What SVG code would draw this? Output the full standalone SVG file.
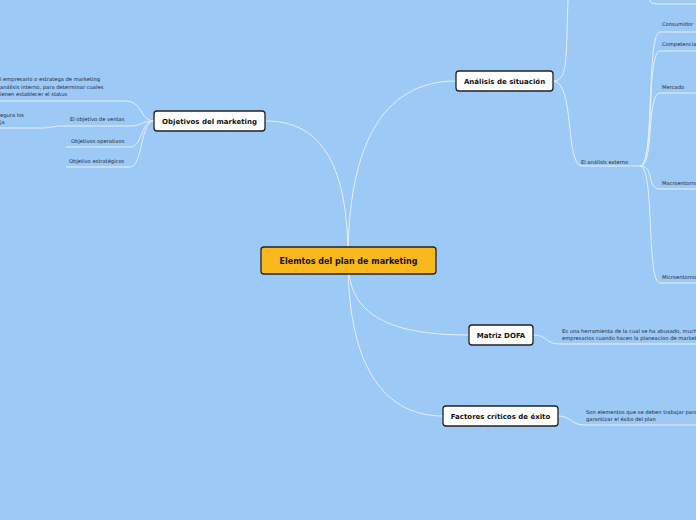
<svg xmlns="http://www.w3.org/2000/svg" width="696" height="520" viewBox="0 0 696 520">
<style>
.n rect{fill:#fff;stroke:#222;stroke-width:1.3}
.n text{font-family:"DejaVu Sans",Verdana,sans-serif;font-weight:bold;font-size:7px;fill:#111;text-anchor:middle}
.t{font-family:"DejaVu Sans",Verdana,sans-serif;font-size:5.2px;fill:#1c2a3a}
#c path{fill:none;stroke:#e6f0fb;stroke-width:1}
</style>
<rect width="696" height="520" fill="#9cc9f5"/>
<g id="c">
<path d="M348 260 C348 150 380 81 456 81"/>
<path d="M348 260 C348 180 330 121 266 121"/>
<path d="M348 260 C348 310 380 335 469 335"/>
<path d="M348 260 C348 360 380 416 443 416"/>
<path d="M553 81 C568 81 566 60 568 0"/>
<path d="M553 81 C575 81 565 166 582 166 L640 166"/>
<path d="M650 0 C650 3 652 4 660 4 L696 4"/>
<path d="M640 166 C655 166 646 32 660 32 L696 32"/>
<path d="M640 166 C655 166 646 51 660 51 L696 51"/>
<path d="M640 166 C655 166 646 93 660 93 L696 93"/>
<path d="M640 166 C655 166 646 189 660 189 L696 189"/>
<path d="M640 166 C655 166 646 283 660 283 L696 283"/>
<path d="M533 335 C548 335 545 344 560 344 L696 344"/>
<path d="M558 416 C572 416 570 425 585 425 L696 425"/>
<path d="M154 121 C140 121 143 101 125 101 L0 101"/>
<path d="M154 121 C140 121 143 126 130 126 L62 126 C52 126 52 128 40 128 L0 128"/>
<path d="M154 121 C140 121 143 147 130 147 L66 147"/>
<path d="M154 121 C140 121 143 167 130 167 L66 167"/>
</g>
<g id="root" class="n"><rect x="261" y="247" width="175" height="27" rx="3" style="fill:#f9b91c"/><text x="348.5" y="264" style="font-size:8px">Elemtos del plan de marketing</text></g>
<g id="analisis" class="n"><rect x="456" y="71" width="97" height="20" rx="3"/><text x="504.5" y="84">Análisis de situación</text></g>
<g id="objetivos" class="n"><rect x="154" y="111" width="111" height="20" rx="3"/><text x="209.5" y="124">Objetivos del marketing</text></g>
<g id="dofa" class="n"><rect x="469" y="325" width="64" height="20" rx="3"/><text x="501" y="338">Matriz DOFA</text></g>
<g id="factores" class="n"><rect x="443" y="406" width="115" height="20" rx="3"/><text x="500.5" y="419">Factores críticos de éxito</text></g>
<g id="labels">
<text class="t" x="581" y="164">El análisis externo</text>
<text class="t" x="662" y="26">Consumidor</text>
<text class="t" x="662" y="46">Competencia</text>
<text class="t" x="662" y="89">Mercado</text>
<text class="t" x="662" y="185">Macroentorno</text>
<text class="t" x="662" y="279">Microentorno</text>
<text class="t" x="562" y="333">Es una herramienta de la cual se ha abusado, muchos</text>
<text class="t" x="562" y="340">empresarios cuando hacen la planeacion de marketing</text>
<text class="t" x="586" y="414">Son elementos que se deben trabajar para</text>
<text class="t" x="586" y="421">garantizar el éxito del plan</text>
<text class="t" x="0" y="81">l empresario o estratega de marketing</text>
<text class="t" x="0" y="89">análisis interno, para determinar cuales</text>
<text class="t" x="0" y="96">ienen establecer el status</text>
<text class="t" x="0" y="117">egura los</text>
<text class="t" x="0" y="124">ja</text>
<text class="t" x="70" y="121">El objetivo de ventas</text>
<text class="t" x="71" y="143">Objetivos operativos</text>
<text class="t" x="69" y="163">Objetivo estratégicos</text>
</g>
</svg>
